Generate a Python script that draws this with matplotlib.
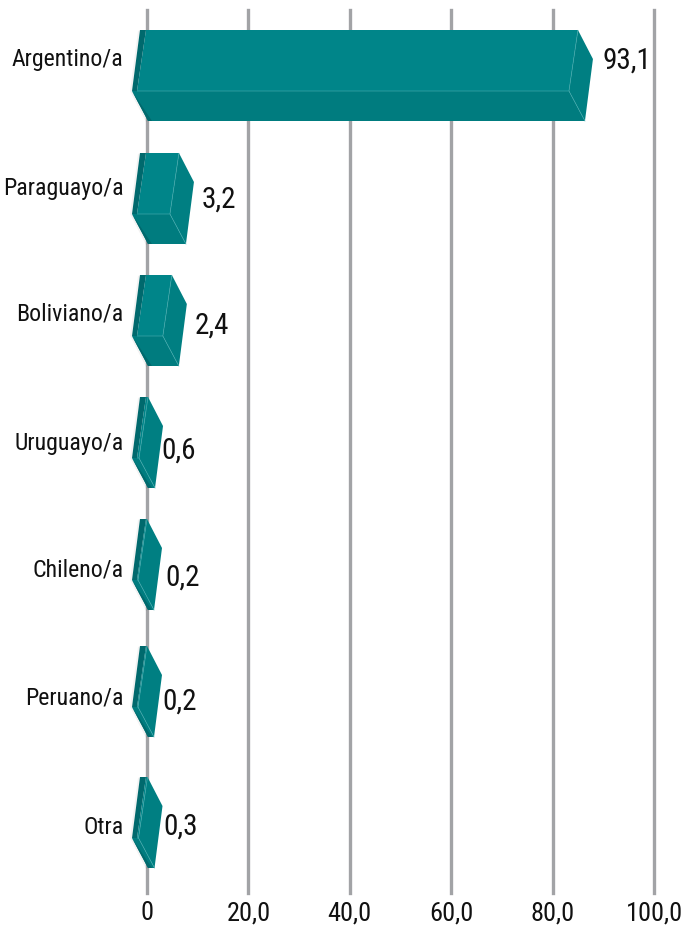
import matplotlib
matplotlib.use("Agg")
import matplotlib.pyplot as plt
from matplotlib.patches import Polygon

categories = ["Argentino/a", "Paraguayo/a", "Boliviano/a", "Uruguayo/a", "Chileno/a", "Peruano/a", "Otra"]
value_labels = ["93,1", "3,2", "2,4", "0,6", "0,2", "0,2", "0,3"]
# drawn bar ends as read against the axis (the picture does not scale them with the labels)
bar_ends = [85.0, 6.3, 4.9, 0.2, 0.0, 0.0, 0.1]
tick_values = [0, 20, 40, 60, 80, 100]
tick_labels = ["0", "20,0", "40,0", "60,0", "80,0", "100,0"]

# layout, in pixel rows of the figure
row_tops = [30, 153, 275, 397, 519, 646, 777]
cat_rows = [57, 186, 312, 441, 568, 696, 825]
val_rows = [61, 200, 326, 451, 578, 702, 827]
val_x = [602, 202, 195, 161, 165, 162, 163]

W, H, DPI = 681, 925, 100
X0, X100, Y0, Y1 = 147, 654, 10, 893
U = 100 / (X100 - X0)  # axis units per pixel

plt.rcParams["font.family"] = ["Roboto Condensed", "DejaVu Sans"]
fig = plt.figure(figsize=(W / DPI, H / DPI), dpi=DPI)
ax = fig.add_axes([X0 / W, 1 - Y1 / H, (X100 - X0) / W, (Y1 - Y0) / H])
ax.set_xlim(0, 100)
ax.set_ylim(Y1, Y0)
for s in ax.spines.values():
    s.set_visible(False)

ax.set_xticks(tick_values, tick_labels, fontsize=19)
ax.set_yticks(cat_rows, categories, fontsize=17.2)
ax.tick_params(axis="x", length=0, pad=6)
ax.tick_params(axis="y", length=0, pad=17)
ax.grid(axis="x", color="#a2a3a6", lw=2.4, clip_on=False, snap=True)
ax.set_axisbelow(True)

FRONT, BOTTOM, SIDE, STRIP = "#008589", "#007c7f", "#007f82", "#00696d"
EDGE = "#3fa7aa"


def poly(pts, color, z=3, **kw):
    ax.add_patch(Polygon(pts, closed=True, facecolor=color, edgecolor="none", zorder=z, clip_on=False, **kw))


for end, top in zip(bar_ends, row_tops):
    mid, bot, tip_y = top + 61, top + 91, top + 29
    # left edges fixed in pixels from the axis origin
    a = -7 * U   # back top-left
    b = -1 * U   # strip right at the top
    c = -15 * U  # left tip
    d = -10 * U  # strip right at the fold
    e = 1 * U    # bottom left
    f = 5 * U    # bottom strip right
    inner = end - 9 * U
    # faint shadow
    poly([(a - 2 * U, top + 1), (c - 2 * U, mid), (e - 2 * U, bot + 1), (e, bot), (c, mid), (a, top)], "#000000", z=2.5, alpha=0.05)
    poly([(b, top), (end, top), (inner, mid), (d, mid)], FRONT)
    poly([(c, mid), (inner, mid), (end + 7 * U, bot), (e, bot)], BOTTOM)
    poly([(end, top), (end + 15 * U, tip_y), (end + 7 * U, bot), (inner, mid)], SIDE)
    poly([(a, top), (b, top), (d, mid), (c, mid)], STRIP, z=3.2)
    poly([(c, mid), (f, bot), (e, bot)], STRIP, z=3.2)
    ax.plot([end, inner, d], [top, mid, mid], color=EDGE, lw=0.5, zorder=3.4, clip_on=False, solid_capstyle="butt")
    ax.plot([inner, end + 7 * U], [mid, bot], color=EDGE, lw=0.5, zorder=3.4, clip_on=False)

for x, y, lab in zip(val_x, val_rows, value_labels):
    ax.text((x - X0) * U, y, lab, fontsize=21, color="#111111", ha="left", va="center", zorder=5, clip_on=False)

for t in ax.get_xticklabels() + ax.get_yticklabels():
    t.set_color("#111111")

fig.savefig("out.png", dpi=DPI)
